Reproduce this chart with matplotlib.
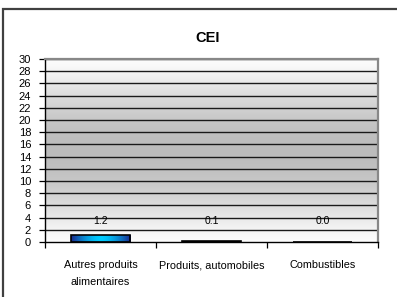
import numpy as np
import matplotlib
matplotlib.use("Agg")
import matplotlib.pyplot as plt
from matplotlib.patches import Rectangle

# chart data
categories = ["Autres produits\nalimentaires", "Produits, automobiles", "Combustibles"]
values = [1.2, 0.1, 0.0]
labels = ["1.2", "0.1", "0.0"]
yticks = list(range(0, 31, 2))

plt.rcParams['font.family'] = ['Liberation Sans', 'DejaVu Sans']

fig = plt.figure(figsize=(3.97, 2.97), dpi=100)
ax = fig.add_axes([45 / 397, 55 / 297, 333 / 397, 183 / 297])

# outer frame (runs off the right/bottom edge like the original)
fig.patches.append(Rectangle((3 / 397, -0.1), 1.1, 1.1 - 9 / 297,
                             transform=fig.transFigure, fill=False,
                             edgecolor="#404040", linewidth=1.6))

# grey background gradient: white at top and bottom, darker in the middle
t = np.linspace(0, 1, 256)
shade = 0.99 - 0.25 * np.sin(np.pi * t) ** 1.3
bg = np.dstack([shade, shade, shade]).reshape(256, 1, 3)
ax.imshow(bg, extent=[0, 3, 0, 30], aspect="auto", origin="lower", zorder=0)

for y in yticks[1:]:
    ax.axhline(y, color="#1a1a1a", linewidth=1.0, zorder=1)

# bars with horizontal blue gradient
x = np.arange(len(values)) + 0.5
bars = ax.bar(x, values, width=0.54, facecolor="none", edgecolor="black",
              linewidth=1.2, zorder=3)
u = np.linspace(-1, 1, 128)
w = 1 - np.abs(u) ** 1.6
grad = np.zeros((1, 128, 3))
grad[0, :, 0] = 0.10 + (0.00 - 0.10) * w
grad[0, :, 1] = 0.15 + (0.80 - 0.15) * w
grad[0, :, 2] = 0.55 + (1.00 - 0.55) * w
for b in bars:
    if b.get_height() > 0.5:
        im = ax.imshow(grad, extent=[b.get_x(), b.get_x() + b.get_width(), 0, b.get_height()],
                       aspect="auto", zorder=2)
        im.set_clip_path(b)

for xi, lab in zip(x, labels):
    ax.text(xi, 3.4, lab, ha="center", va="center", fontsize=7.5, zorder=4)

ax.set_xlim(0, 3)
ax.set_ylim(0, 30)
ax.set_yticks(yticks)
ax.set_yticklabels([str(v) for v in yticks], fontsize=8)
ax.tick_params(axis="y", length=4, width=0.9, pad=6, direction="out")
ax.set_xticks([0, 1, 2, 3])
ax.set_xticklabels([])
ax.set_xticks(x, minor=True)
ax.set_xticklabels(categories, minor=True, fontsize=7.8, linespacing=1.85, va="top")
ax.tick_params(axis="x", which="major", length=4, width=0.9, direction="out")
ax.tick_params(axis="x", which="minor", length=0, pad=13)

for s in ["top", "right"]:
    ax.spines[s].set_color("#888888")
    ax.spines[s].set_linewidth(1.6)
ax.spines["left"].set_color("black")
ax.spines["bottom"].set_color("black")
ax.spines["left"].set_linewidth(1.0)
ax.spines["bottom"].set_linewidth(1.0)

fig.text(208 / 397, 1 - 38 / 297, "CEI", ha="center", va="center",
         fontsize=10.5, fontweight="bold")

fig.savefig("out.png", dpi=100)
